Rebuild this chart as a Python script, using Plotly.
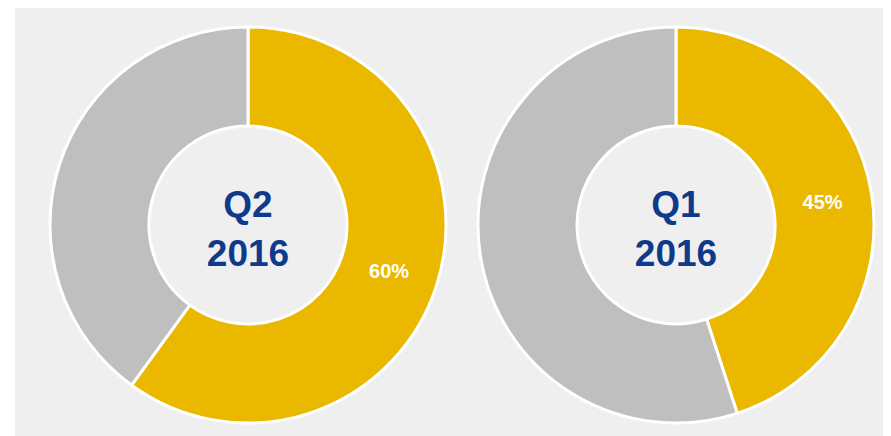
import plotly.graph_objects as go

# values
quarters = ["Q2<br>2016", "Q1<br>2016"]
share = [60, 45]
other = [40, 55]
slice_names = ["Share", "Other"]

GOLD = "#EBB800"
GREY = "#BFBFBF"
BLUE = "#0E3A8C"
W, H = 891, 436
OFF = 8  # page body margin shifts the figure by 8px

# pie centres / radius in pixels (window coords), converted to paper domains
centres_x = [248 - OFF, 676 - OFF]
centre_y = 225 - OFF
radius = 198

fig = go.Figure()
for i, q in enumerate(quarters):
    cx = centres_x[i]
    fig.add_trace(go.Pie(
        values=[share[i], other[i]],
        labels=slice_names,
        text=[f"{share[i]}%", ""],
        textinfo="text",
        textposition="inside",
        insidetextorientation="horizontal",
        textfont=dict(family="Arial, Liberation Sans", size=20, color="white", weight="bold"),
        marker=dict(colors=[GOLD, GREY], line=dict(color="white", width=3)),
        hole=0.5,
        sort=False,
        direction="clockwise",
        rotation=0,
        showlegend=False,
        hoverinfo="skip",
        title=dict(text=f"<b>{q}</b>", position="middle center",
                   font=dict(family="Arial, Liberation Sans", size=37, color=BLUE)),
        domain=dict(
            x=[(cx - radius) / W, (cx + radius) / W],
            y=[(H - centre_y - radius) / H, (H - centre_y + radius) / H],
        ),
    ))

fig.update_layout(
    width=W,
    height=H,
    margin=dict(l=0, r=0, t=0, b=0),
    paper_bgcolor="white",
    plot_bgcolor="white",
    shapes=[dict(type="rect", xref="paper", yref="paper",
                 x0=(15 - OFF) / W, x1=(887 - OFF) / W, y0=0, y1=1,
                 fillcolor="#EFEFEF", line=dict(width=0), layer="below")],
)

fig.write_html("out.html")
